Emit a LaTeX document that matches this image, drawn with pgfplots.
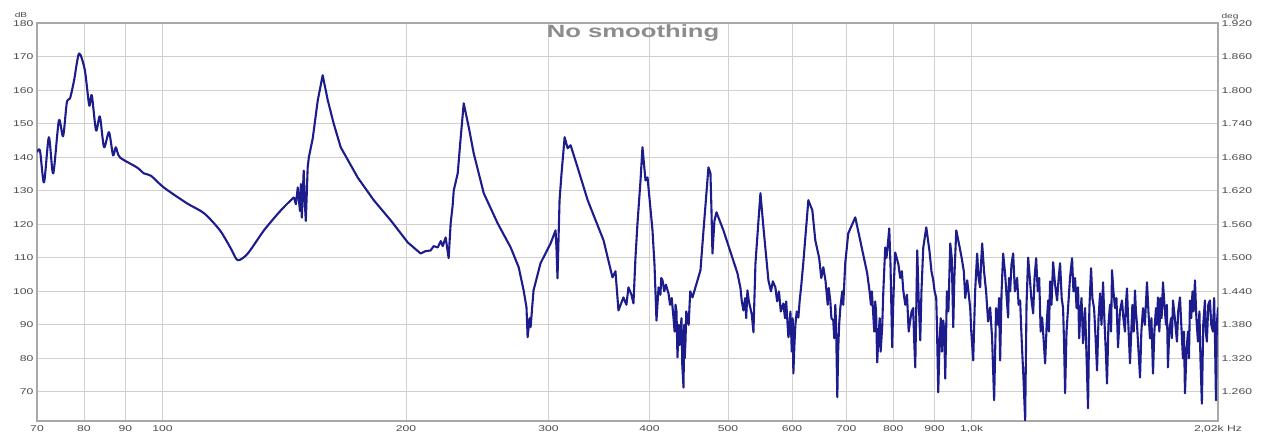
\documentclass[border=0pt]{standalone}
\usepackage{pgfplots}
\usepackage{pgfplotstable}
\usepackage{graphicx}
\usepackage{fontspec}
\setmainfont{Liberation Sans}
\pgfplotsset{compat=1.18}
\definecolor{curve}{RGB}{28,28,140}
\definecolor{gridc}{RGB}{208,208,208}
\definecolor{framec}{RGB}{168,168,168}
\definecolor{labc}{RGB}{75,75,75}
\definecolor{titc}{RGB}{140,140,140}
\newcommand\sx[1]{\scalebox{1.45}[1]{#1}}

\pgfplotstableread{
f db
70.0 141.5
70.6 142
71.4 132.5
72.4 146
73.3 135.2
74.5 151
75.4 146.3
76.2 156.4
76.9 157.6
77.8 163
78.9 171
80.2 166
81.2 155.5
81.8 158.5
82.8 148
83.7 152.2
84.7 143
85.9 147.5
86.9 140.6
87.6 143
88.6 140
93.0 137
94.9 135.2
96.8 134.5
100.4 131
107.2 126.3
112.6 123.3
117.8 118.2
121.5 112.8
123.9 109.3
127.5 111.3
133.5 118.2
140.1 124.2
145.4 128.1
}\lowdata

\pgfplotstableread{
f db
145.4 128.1
146.2 126
147.0 131
147.9 124
148.3 132
148.7 122
149.5 136
150.0 126
150.4 121
151.2 137
151.7 140
153.4 145.7
155.6 157
157.8 164.5
160.1 157
162.8 150.1
166.1 143
174.3 134
182.5 127.2
191.5 121.2
201.0 114.6
208.5 111.3
211.4 112
214.5 112.2
216.4 113.5
218.9 113.1
220.8 115
222.0 113.5
223.9 116.1
225.8 109.9
227.1 120.3
228.4 125.7
229.1 130.1
231.7 135.2
233.5 145
235.7 156.1
239.1 149
242.5 141.2
249.5 129.3
259.6 120.3
269.4 113.1
275.6 107.2
279.5 100.3
281.8 95.2
282.7 86.3
284.3 92
285.1 89.3
287.5 100.3
293.3 108.4
301.8 114.3
306.1 118.2
306.9 113
307.8 103.9
309.6 127.2
311.3 135
314.1 146
316.8 142.7
319.5 143.6
325.9 137
335.4 127.2
350.9 115.2
359.9 104.2
363.0 106
366.1 94.3
371.3 98.2
374.5 96
376.7 101.2
379.9 99
382.1 96.4
384.3 110
386.5 120.3
389.8 133
392.0 143
395.4 133.1
397.7 134
403.3 118.2
405.6 108
407.9 91.3
410.3 101.2
412.5 99
413.5 104
415.0 103.3
417 100
419 102
422.1 99.4
424 96
426 98
428.1 92.2
429.5 88
430.6 96
431.8 94
433.0 80.3
434.5 90
435.5 84
436.8 88.4
438 92
439 78
440.5 71.3
441.5 90
442 80
443.0 85
444 94
445.5 92.2
447 90
449 100
451.9 98.2
462.3 106.3
466.3 118.2
472.9 137
475.6 135.2
476.9 125
478.3 111.3
481.0 121
483.8 123.6
493.5 118.2
513.6 105.4
518.0 101
520 97
522.4 94.3
525 98
526.5 92
528.4 100.3
530.5 97
532.9 95
535 93
537.5 87.8
540.6 108.4
548.3 129.3
553.0 119.1
560.9 103.3
565 100
568 103
572.1 101.2
575 97
578 100
581 94
585.3 96.4
588 92
590 97
593.7 86.3
595 88
597.1 94
599.5 82
601 92
602.2 75.5
604 84
605.6 90
608 94
610.8 92.2
613 97
616 102
619.4 108.4
628.4 127.2
635.6 124.2
641.0 115.2
648 110
652 104
655.8 107.2
660 103
664 96
666 101
668.9 97.3
671 92
674.6 91.3
676.5 86
678.5 96
680 90
682.4 68.4
684 82
686 90
688.3 95.2
692 100
694 96
698.0 108.4
704.0 117.3
718.2 122.1
743.0 105.4
748 100
751 96
753 100
755.8 93.4
758 88
760.1 97
762 94
764.5 78.8
767 86
770 92
772 82
775.4 89.3
778 100
782.1 113.1
785 110
788 114
791.1 118.8
794 108
797.8 83.3
800 96
802 104
804.6 111.6
812 108
816 104
820 106
823.2 100.3
828 96
832 99
836 88
839.7 91.3
843 94
846.9 95
849 86
851.8 77.3
856.7 112.2
860 98
864.0 85.4
867 100
871.4 113
878.9 119.1
887 112
892 106
896.5 103.3
900 100
904.2 98
906 90
909.4 69.9
913 86
916 92
919 82
922.4 91.3
925 88
927.7 74
932 100
936 94
941.0 114.3
945 110
949.1 89.3
952 104
957.2 118.2
965 114
972 110
978 106
982 98
987.5 103.3
991 100
995.9 95
999 88
1004.5 79.4
1010 100
1015.8 111.3
1020 104
1024.5 101.2
1027 108
1030.4 114.3
1036 106
1042 100
1048 91
1054.1 95.2
1060 86
1066.1 67.5
1072 95
1078.4 90
1081 98
1084.5 79.4
1089 100
1093.8 111.3
1100.1 105
1105 98
1109.5 92.2
1112 104
1115.9 100
1120 108
1125.4 111.3
1131 100
1138.2 104
1143 96
1148.0 97.3
1151 90
1154.6 82.4
1159 74
1164.5 61.5
1169 96
1174.5 110.1
1180 104
1185 98
1191.3 93.4
1196 104
1201.5 109.9
1207 100
1212 104
1217 88
1222.1 92.2
1227 86
1232.5 78.5
1238 90
1243.1 97.3
1246 88
1250.2 103
1255 96
1260.9 108.7
1268 102
1275.3 97.3
1281 104
1286.2 108.4
1292 98
1297.2 95
1301 84
1304.7 69.6
1310 88
1315.9 95.2
1323 104
1330.8 109.9
1336 100
1342.2 104
1348 95
1353.7 101.2
1358 86
1361.5 92
1367 98
1373.1 84.5
1377 90
1381.0 95
1387 80
1392.8 65.1
1398 95
1404.8 106.9
1410 98
1416.8 95
1423 86
1428.9 76.4
1435 92
1441.2 99.4
1447 90
1453.5 102.7
1460 90
1465 82
1470.0 72.5
1476 90
1482.5 96
1487 88
1491.1 106.3
1497 100
1503.9 95
1510 98
1516.7 83.3
1525 94
1534.0 97.3
1540 92
1547.1 88
1551 96
1556.0 100.9
1562 90
1569.3 78.5
1580 96
1586 88
1591.9 100.3
1596 94
1601.1 90
1608 82
1614.8 74.3
1621 88
1628.6 95
1637 90
1647.1 102.7
1654 94
1661.2 86
1668 92
1675.4 75.5
1682 88
1689.7 95
1694 90
1699.5 98.2
1706 88
1712 98
1717 92
1723.9 102.7
1731 96
1738.6 90
1743 96
1748.4 77.3
1755 88
1763.4 92
1768 86
1773.6 97.3
1783 92
1793.7 85
1800 94
1809.1 98.2
1816 90
1824.6 80
1830 88
1835.1 69.6
1843 82
1850.8 88
1856 80
1861.5 97.3
1868 92
1875 100
1881 94
1888.0 103.3
1896 92
1904.2 85
1912 94
1918 80
1925.8 66.5
1933 90
1942.3 97.3
1947 88
1953.5 85
1961 96
1970.2 97.3
1978 90
1987.1 88
1994 98
2000 82
2004.1 67.5
2009 90
2015.7 95.2
}\highdata

\begin{document}
\begin{tikzpicture}
\begin{axis}[
  name=main,
  at={(0,0)}, anchor=south west,
  scale only axis,
  width=1181pt, height=397.4pt,
  xmode=log, log basis x=10,
  xmin=70, xmax=2016,
  ymin=61.4, ymax=180,
  xtick={70,80,90,100,200,300,400,500,600,700,800,900,1000,2016},
  xticklabels={{\sx{70}},{\sx{80}},{\sx{90}},{\sx{100}},{\sx{200}},{\sx{300}},{\sx{400}},{\sx{500}},{\sx{600}},{\sx{700}},{\sx{800}},{\sx{900}},{\sx{1,0k}},{\sx{2,02k Hz}}},
  ytick={70,80,90,100,110,120,130,140,150,160,170,180},
  yticklabels={{\sx{70}},{\sx{80}},{\sx{90}},{\sx{100}},{\sx{110}},{\sx{120}},{\sx{130}},{\sx{140}},{\sx{150}},{\sx{160}},{\sx{170}},{\sx{180}}},
  minor xtick={},
  major tick length=0pt,
  xmajorgrids, ymajorgrids,
  grid style={draw=gridc, line width=0.9pt},
  axis line style={draw=framec, line width=2.2pt},
  tick label style={font=\fontsize{8.4}{10}\selectfont, text=labc},
  xticklabel style={yshift=-1pt},
]
\addplot[curve, line width=2.1pt, line join=round, smooth, tension=0.45] table[x=f, y=db] {\lowdata};
\addplot[curve, line width=2.1pt, line join=round] table[x=f, y=db] {\highdata};
\end{axis}
\begin{axis}[
  at={(0,0)}, anchor=south west,
  scale only axis,
  width=1181pt, height=397.4pt,
  xmode=log, xmin=70, xmax=2016,
  ymin=1.2084, ymax=1.920,
  hide x axis,
  axis y line*=right,
  axis line style={draw=none},
  major tick length=0pt,
  ytick={1.26,1.32,1.38,1.44,1.50,1.56,1.62,1.68,1.74,1.80,1.86,1.92},
  yticklabels={{\sx{1.260}},{\sx{1.320}},{\sx{1.380}},{\sx{1.440}},{\sx{1.500}},{\sx{1.560}},{\sx{1.620}},{\sx{1.680}},{\sx{1.740}},{\sx{1.800}},{\sx{1.860}},{\sx{1.920}}},
  tick label style={font=\fontsize{8.4}{10}\selectfont, text=labc},
]
\addplot[draw=none] coordinates {(100,1.5)};
\end{axis}
\node[font=\bfseries\fontsize{17.7}{20}\selectfont, text=titc] at ([xshift=596pt, yshift=-10pt]main.north west) {\sx{No smoothing}};
\node[font=\fontsize{7}{8}\selectfont, text=labc] at ([xshift=-16pt, yshift=8pt]main.north west) {\sx{dB}};
\node[font=\fontsize{7}{8}\selectfont, text=labc] at ([xshift=12pt, yshift=7pt]main.north east) {\sx{deg}};
\pgfresetboundingbox
\path (-37pt,-18.3pt) rectangle (1231pt,420.7pt);
\end{tikzpicture}
\end{document}
